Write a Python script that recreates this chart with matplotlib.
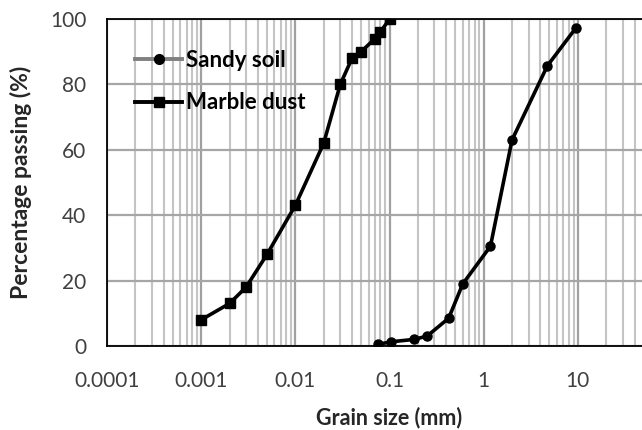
import matplotlib
matplotlib.use('Agg')
import matplotlib.pyplot as plt
from matplotlib.lines import Line2D
from matplotlib.ticker import LogLocator, FixedLocator

plt.rcParams['font.family'] = ['Lato', 'DejaVu Sans']

# data
sand_x = [0.075, 0.105, 0.18, 0.25, 0.425, 0.6, 1.18, 2.0, 4.75, 9.5]
sand_y = [0.5, 1.3, 2, 3, 8.5, 19, 30.5, 63, 85.7, 97.2]
marble_x = [0.001, 0.002, 0.003, 0.005, 0.01, 0.02, 0.03, 0.04, 0.05, 0.07, 0.08, 0.1]
marble_y = [8, 13, 18, 28, 43, 62, 80, 88, 90, 94, 96, 100]
xticks = [0.0001, 0.001, 0.01, 0.1, 1, 10]
xtick_labels = ['0.0001', '0.001', '0.01', '0.1', '1', '10']
yticks = [0, 20, 40, 60, 80, 100]

fig = plt.figure(figsize=(6.42, 4.30), dpi=100)
# axes run to 100 mm, past the right edge of the picture
ax = fig.add_axes([107/642, 84/430, 565/642, 327/430])

ax.plot(sand_x, sand_y, color='black', lw=2.6, marker='o', ms=6.5, zorder=3)
ax.plot(marble_x, marble_y, color='black', lw=2.6, marker='s', ms=6.5, zorder=3)

ax.set_xscale('log')
ax.set_xlim(1e-4, 100)
ax.set_ylim(0, 100)
ax.xaxis.set_major_locator(FixedLocator(xticks + [100]))
ax.set_xticklabels(xtick_labels + [''])
ax.xaxis.set_minor_locator(LogLocator(base=10, subs=range(2, 10), numticks=20))
ax.set_yticks(yticks)

ax.grid(True, which='major', axis='x', color='#a0a0a0', lw=1.6)
ax.grid(True, which='minor', axis='x', color='#c4c4c4', lw=1.5)
ax.grid(True, which='major', axis='y', color='#a6a6a6', lw=1.6)
ax.set_axisbelow(True)

ax.tick_params(which='both', length=0, labelsize=15, labelcolor='#404040')
ax.tick_params(axis='x', pad=18)
ax.tick_params(axis='y', pad=15)
for s in ['left', 'bottom', 'top']:
    ax.spines[s].set_color('black')
    ax.spines[s].set_linewidth(1.3)
ax.spines['right'].set_visible(False)

ax.set_xlabel('Grain size (mm)', fontsize=15.5, fontweight='bold', color='#262626', labelpad=11)
ax.set_ylabel('Percentage passing (%)', fontsize=16.5, fontweight='bold', color='#262626', labelpad=13)

handles = [Line2D([], [], color='#808080', lw=2.8, marker='o', ms=7, mfc='black', mec='black'),
           Line2D([], [], color='black', lw=2.8, marker='s', ms=7)]
leg = ax.legend(handles, ['Sandy soil', 'Marble dust'], loc='upper left',
                bbox_to_anchor=(0.042, 0.92), frameon=False,
                prop={'weight': 'bold', 'size': 16}, handlelength=2.1, handletextpad=0.2,
                labelspacing=0.98, borderpad=0.2, borderaxespad=0)

fig.savefig('out.png', dpi=100)
